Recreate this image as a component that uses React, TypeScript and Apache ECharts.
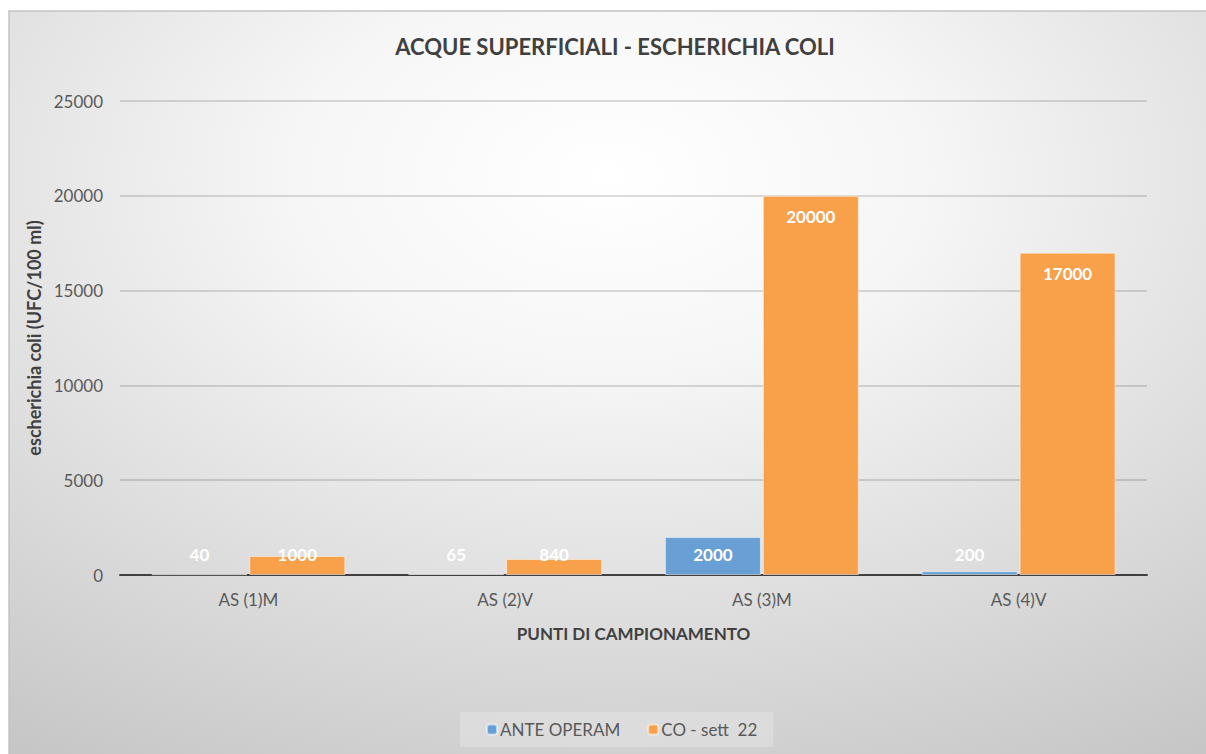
import React, { useEffect, useRef } from "react";
import * as echarts from "echarts";

const categories = ["AS (1)M", "AS (2)V", "AS (3)M", "AS (4)V"];
const anteOperam = [40, 65, 2000, 200];
const coSett22 = [1000, 840, 20000, 17000];
const seriesNames = ["ANTE OPERAM", "CO - sett  22"];
const yTicks = { min: 0, max: 25000, interval: 5000 };

const FONT = "Lato, 'Open Sans', sans-serif";

function labelled(values: number[]) {
  return values.map((v) => ({
    value: v,
    label: v >= 5000
      ? { position: "insideTop", distance: 12 }
      : { position: "insideBottom", distance: 12 },
  }));
}

export default function App() {
  const ref = useRef<HTMLDivElement>(null);
  useEffect(() => {
    document.body.style.margin = "0";
    const chart = echarts.init(ref.current!, undefined, { renderer: "svg" });
    const labelStyle = {
      show: true,
      color: "#ffffff",
      fontFamily: FONT,
      fontWeight: "bold",
      fontSize: 17,
    };
    chart.setOption({
      animation: false,
      backgroundColor: "#ffffff",
      graphic: [
        {
          type: "rect",
          z: -10,
          silent: true,
          shape: { x: 9, y: 11, width: 1200, height: 746 },
          style: {
            fill: {
              type: "radial",
              x: 0.5,
              y: 0.22,
              r: 1.05,
              colorStops: [
                { offset: 0, color: "#ffffff" },
                { offset: 0.25, color: "#f6f6f6" },
                { offset: 1, color: "#bcbcbc" },
              ],
            },
            stroke: "#c4c4c4",
            lineWidth: 1.5,
          },
        },
      ],
      title: {
        text: "ACQUE SUPERFICIALI - ESCHERICHIA COLI",
        left: 610,
        textAlign: "center",
        top: 30,
        textStyle: {
          fontFamily: FONT,
          fontSize: 22,
          fontWeight: "bold",
          color: "#404040",
        },
      },
      legend: {
        data: seriesNames,
        left: 460,
        top: 712,
        padding: [9, 16, 9, 26],
        itemGap: 27,
        itemWidth: 10,
        itemHeight: 10,
        backgroundColor: "rgba(255,255,255,0.22)",
        textStyle: { fontFamily: FONT, fontSize: 17, color: "#595959", padding: [0, 0, 0, -2] },
      },
      grid: { left: 120, right: 59, top: 101, bottom: 179 },
      xAxis: {
        type: "category",
        data: categories,
        name: "PUNTI DI CAMPIONAMENTO",
        nameLocation: "middle",
        nameGap: 50,
        nameTextStyle: { fontFamily: FONT, fontSize: 17, fontWeight: "bold", color: "#404040" },
        axisLine: { lineStyle: { color: "#404040", width: 2 } },
        axisTick: { show: false },
        axisLabel: { fontFamily: FONT, fontSize: 17, color: "#595959", margin: 16 },
      },
      yAxis: {
        type: "value",
        min: yTicks.min,
        max: yTicks.max,
        interval: yTicks.interval,
        name: "escherichia coli (UFC/100 ml)",
        nameLocation: "middle",
        nameGap: 74,
        nameTextStyle: { fontFamily: FONT, fontSize: 18, fontWeight: "bold", color: "#404040" },
        axisLine: { show: false },
        axisTick: { show: false },
        axisLabel: {
          fontFamily: FONT,
          fontSize: 17,
          color: "#595959",
          margin: 17,
          formatter: (v: number) => String(v),
        },
        splitLine: { lineStyle: { color: "rgba(0,0,0,0.18)", width: 1.5 } },
      },
      series: [
        {
          name: seriesNames[0],
          type: "bar",
          data: labelled(anteOperam),
          barWidth: 96,
          barGap: "2%",
          itemStyle: { color: "#68a0d6", borderColor: "rgba(255,255,255,0.5)", borderWidth: 1 },
          label: labelStyle,
        },
        {
          name: seriesNames[1],
          type: "bar",
          data: labelled(coSett22),
          barWidth: 96,
          barGap: "2%",
          itemStyle: { color: "#f8a04a", borderColor: "rgba(255,255,255,0.5)", borderWidth: 1 },
          label: labelStyle,
        },
      ],
    });
    return () => chart.dispose();
  }, []);
  return <div ref={ref} style={{ width: 1206, height: 754 }} />;
}
